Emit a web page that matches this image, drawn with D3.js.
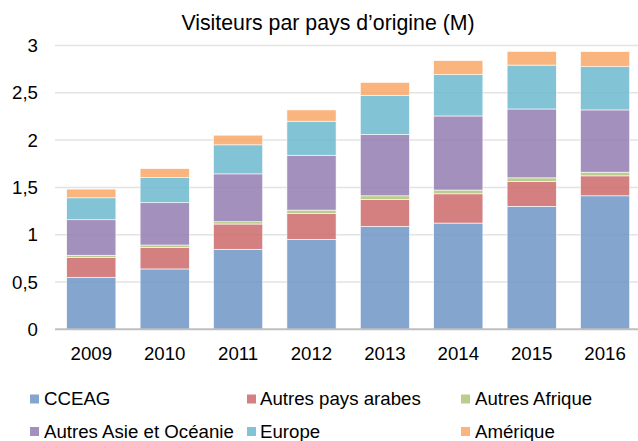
<!DOCTYPE html>
<html>
<head>
<meta charset="utf-8">
<script src="https://cdn.jsdelivr.net/npm/d3@7"></script>
<style>
  body { margin: 0; background: #fff; }
  svg { display: block; font-family: 'Liberation Sans', Arial, sans-serif; }
</style>
</head>
<body>
<svg id="chart" width="638" height="441"></svg>
<script>
const years = ['2009', '2010', '2011', '2012', '2013', '2014', '2015', '2016'];
const seriesNames = ['CCEAG', 'Autres pays arabes', 'Autres Afrique', 'Autres Asie et Océanie', 'Europe', 'Amérique'];
const cceag = [0.55, 0.638, 0.846, 0.951, 1.088, 1.123, 1.30, 1.411];
const autresArabes = [0.207, 0.225, 0.267, 0.271, 0.285, 0.309, 0.263, 0.211];
const autresAfrique = [0.026, 0.028, 0.024, 0.038, 0.038, 0.040, 0.038, 0.039];
const autresAsie = [0.375, 0.447, 0.506, 0.580, 0.648, 0.783, 0.728, 0.658];
const europe = [0.232, 0.265, 0.307, 0.360, 0.415, 0.437, 0.464, 0.457];
const amerique = [0.092, 0.095, 0.102, 0.119, 0.136, 0.148, 0.145, 0.159];
const yTicks = [0, 0.5, 1, 1.5, 2, 2.5, 3];
const colors = ['#6E97C6', '#CC6A6A', '#ADC678', '#947CB2', '#6CBACF', '#F9A766'];

const allSeries = [cceag, autresArabes, autresAfrique, autresAsie, europe, amerique];
const rows = years.map((y, i) => {
  const row = { year: y };
  seriesNames.forEach((name, k) => { row[name] = allSeries[k][i]; });
  return row;
});

const svg = d3.select('#chart');

const x = d3.scaleBand()
  .domain(years)
  .range([54.6, 641.8])
  .paddingInner(0.33)
  .paddingOuter(0.165);

const y = d3.scaleLinear().domain([0, 3]).range([329.3, 45.5]);

// title
svg.append('text')
  .attr('x', 328)
  .attr('y', 30)
  .attr('text-anchor', 'middle')
  .attr('font-size', '21.3px')
  .attr('fill', '#000')
  .text('Visiteurs par pays d’origine (M)');

// gridlines
svg.append('g')
  .selectAll('line')
  .data(yTicks.filter(d => d > 0))
  .join('line')
  .attr('x1', 55)
  .attr('x2', 638)
  .attr('y1', d => y(d))
  .attr('y2', d => y(d))
  .attr('stroke', '#e3e3e3')
  .attr('stroke-width', 1.5);

// y axis labels
const fmt = d => String(d).replace('.', ',');
svg.append('g')
  .selectAll('text')
  .data(yTicks)
  .join('text')
  .attr('x', 38)
  .attr('y', d => y(d))
  .attr('dy', '0.35em')
  .attr('text-anchor', 'end')
  .attr('font-size', '18.67px')
  .attr('fill', '#000')
  .text(fmt);

// stacked bars
const stack = d3.stack().keys(seriesNames);
const layers = stack(rows);

svg.append('g')
  .selectAll('g')
  .data(layers)
  .join('g')
  .attr('fill', (_, i) => colors[i])
  .attr('fill-opacity', 0.85)
  .selectAll('rect')
  .data(d => d)
  .join('rect')
  .attr('x', d => x(d.data.year))
  .attr('width', x.bandwidth())
  .attr('y', d => y(d[1]))
  .attr('height', d => y(d[0]) - y(d[1]))
  .attr('stroke', '#fff')
  .attr('stroke-width', 0.6);

// baseline
svg.append('line')
  .attr('x1', 55)
  .attr('x2', 638)
  .attr('y1', y(0))
  .attr('y2', y(0))
  .attr('stroke', '#bfbfbf')
  .attr('stroke-width', 2);

// x labels
svg.append('g')
  .selectAll('text')
  .data(years)
  .join('text')
  .attr('x', d => x(d) + x.bandwidth() / 2)
  .attr('y', 359.5)
  .attr('text-anchor', 'middle')
  .attr('font-size', '18.67px')
  .attr('fill', '#000')
  .text(d => d);

// legend
const legendPos = [
  { mx: 30, tx: 44, y: 405 },
  { mx: 247, tx: 260, y: 405 },
  { mx: 461, tx: 475, y: 405 },
  { mx: 30, tx: 44, y: 437.5 },
  { mx: 247, tx: 260, y: 437.5 },
  { mx: 461, tx: 475, y: 437.5 }
];

const legend = svg.append('g')
  .selectAll('g')
  .data(seriesNames)
  .join('g');

legend.append('rect')
  .attr('x', (_, i) => legendPos[i].mx)
  .attr('y', (_, i) => legendPos[i].y - 10.5)
  .attr('width', 9)
  .attr('height', 9)
  .attr('fill', (_, i) => colors[i])
  .attr('fill-opacity', 0.85);

legend.append('text')
  .attr('x', (_, i) => legendPos[i].tx)
  .attr('y', (_, i) => legendPos[i].y)
  .attr('font-size', '18.67px')
  .attr('fill', '#000')
  .text(d => d);
</script>
</body>
</html>
